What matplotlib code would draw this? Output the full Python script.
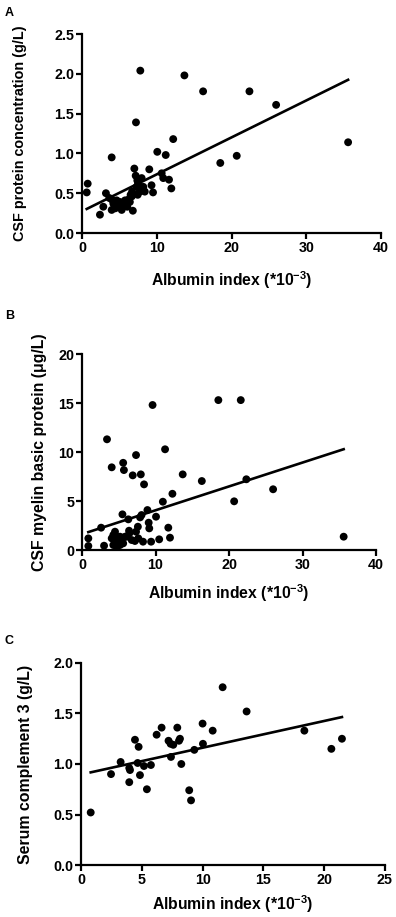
import numpy as np
import matplotlib
matplotlib.use('Agg')
import matplotlib.pyplot as plt

plt.rcParams['font.family'] = ['Liberation Sans', 'DejaVu Sans']
plt.rcParams['font.weight'] = 'bold'
plt.rcParams['mathtext.fontset'] = 'custom'
plt.rcParams['mathtext.rm'] = 'Liberation Sans:bold'
plt.rcParams['mathtext.bf'] = 'Liberation Sans:bold'
plt.rcParams['mathtext.it'] = 'Liberation Sans:bold'

# Panel A: albumin index vs CSF protein
a_x = [0.76, 0.63, 2.4, 2.85, 3.2, 3.97, 3.65, 3.97, 4.19, 4.64, 4.86, 5.08, 5.31, 5.5,
       5.75, 6.06, 6.4, 6.8, 6.66, 7.0, 7.18, 7.22, 7.8, 7.3, 7.5, 7.75, 7.98, 8.2, 8.4,
       9.0, 9.3, 9.5, 10.07, 10.66, 10.87, 11.2, 11.64, 11.95, 12.2, 13.7, 16.2, 18.5,
       20.7, 22.4, 25.97, 35.6, 4.45, 5.9, 6.2, 6.5, 7.45, 7.6, 4.0, 5.2, 5.65, 6.7, 7.4]
a_y = [0.62, 0.51, 0.23, 0.33, 0.50, 0.95, 0.44, 0.29, 0.37, 0.41, 0.33, 0.39, 0.29, 0.35,
       0.41, 0.33, 0.39, 0.28, 0.46, 0.81, 0.72, 1.39, 2.04, 0.58, 0.62, 0.52, 0.69, 0.58, 0.52,
       0.80, 0.60, 0.51, 1.02, 0.75, 0.69, 0.98, 0.67, 0.56, 1.18, 1.98, 1.78, 0.88,
       0.97, 1.78, 1.61, 1.14, 0.31, 0.38, 0.42, 0.48, 0.48, 0.57, 0.42, 0.34, 0.36, 0.52, 0.66]
a_fit = (0.0464, 0.273)

# Panel B: albumin index vs CSF myelin basic protein
b_x = [0.86, 0.86, 2.6, 3.0, 3.4, 4.04, 5.6, 5.7, 7.35, 6.9, 8.0, 8.44, 9.6, 11.3, 11.0,
       12.3, 13.7, 16.3, 5.5, 6.3, 8.1, 7.9, 8.9, 9.07, 9.15, 10.07, 11.74, 11.97, 10.5,
       9.4, 8.3, 7.35, 7.6, 6.44, 6.76, 7.66, 7.2, 6.4, 4.04, 4.26, 4.49, 4.72, 4.94, 5.17,
       5.4, 5.6, 5.85, 4.26, 4.72, 5.17, 4.49, 18.55, 20.7, 21.6, 22.36, 26.0, 35.6, 6.1, 5.0]
b_y = [1.19, 0.41, 2.28, 0.44, 11.3, 8.44, 8.9, 8.16, 9.69, 7.62, 7.72, 6.7, 14.8, 10.28, 4.93,
       5.74, 7.72, 7.04, 3.64, 3.13, 3.57, 3.33, 4.08, 2.79, 2.21, 3.4, 2.28, 1.26, 1.09,
       0.85, 0.85, 1.87, 2.38, 1.7, 1.02, 1.19, 0.92, 1.97, 1.19, 1.53, 1.87, 1.36, 0.85, 0.51,
       1.09, 0.68, 1.36, 0.51, 0.34, 1.36, 0.85, 15.3, 4.97, 15.3, 7.22, 6.2, 1.36, 1.36, 1.0]
b_fit = (0.2435, 1.62)

# Panel C: albumin index vs serum complement 3
c_x = [0.8, 2.47, 3.26, 3.97, 4.03, 3.97, 4.44, 4.74, 4.66, 4.85, 5.18, 5.42, 5.75, 6.22,
       6.63, 7.2, 7.37, 7.59, 7.4, 7.92, 8.14, 8.06, 8.25, 8.9, 9.05, 9.32, 10.0, 10.03,
       10.83, 11.65, 13.62, 18.37, 20.59, 21.46]
c_y = [0.52, 0.90, 1.02, 0.96, 0.94, 0.82, 1.24, 1.17, 1.01, 0.89, 0.98, 0.75, 0.99, 1.29,
       1.36, 1.23, 1.20, 1.19, 1.07, 1.36, 1.25, 1.23, 1.00, 0.74, 0.64, 1.14, 1.40, 1.20,
       1.33, 1.76, 1.52, 1.33, 1.15, 1.25]
c_fit = (0.0265, 0.896)

xlabel = r'Albumin index (*10$^{-3}$)'

panels = [
    dict(x=a_x, y=a_y, fit=a_fit, letter='A', ylabel='CSF protein concentration (g/L)',
         xlim=40, xticks=[0, 10, 20, 30, 40], ylim=2.5, yticks=[0, 0.5, 1.0, 1.5, 2.0, 2.5],
         fmt='{:.1f}', rect=[0.2071, 0.7459, 0.755, 0.2170], yfs=10.4,
         ylx=-0.184, xly=-0.181, let_y=0.992),
    dict(x=b_x, y=b_y, fit=b_fit, letter='B', ylabel='CSF myelin basic protein (\u03bcg/L)',
         xlim=40, xticks=[0, 10, 20, 30, 40], ylim=20, yticks=[0, 5, 10, 15, 20],
         fmt='{:.0f}', rect=[0.2071, 0.4002, 0.7424, 0.2137], yfs=11.4,
         ylx=-0.119, xly=-0.163, let_y=0.662),
    dict(x=c_x, y=c_y, fit=c_fit, letter='C', ylabel='Serum complement 3 (g/L)',
         xlim=25, xticks=[0, 5, 10, 15, 20, 25], ylim=2.0, yticks=[0, 0.5, 1.0, 1.5, 2.0],
         fmt='{:.1f}', rect=[0.2045, 0.0567, 0.7677, 0.2203], yfs=11.4,
         ylx=-0.158, xly=-0.139, let_y=0.308),
]

fig = plt.figure(figsize=(3.96, 9.17), dpi=100)

for p in panels:
    ax = fig.add_axes(p['rect'])
    ax.scatter(p['x'], p['y'], s=32, color='black', edgecolors='none', zorder=3, clip_on=False)
    slope, icept = p['fit']
    xs = np.array([min(p['x']), max(p['x'])])
    ax.plot(xs, slope * xs + icept, color='black', lw=1.9, zorder=2)
    ax.set_xlim(0, p['xlim'])
    ax.set_ylim(0, p['ylim'])
    ax.set_xticks(p['xticks'])
    ax.set_yticks(p['yticks'])
    ax.set_yticklabels([p['fmt'].format(v) for v in p['yticks']])
    for s in ['top', 'right']:
        ax.spines[s].set_visible(False)
    for s in ['left', 'bottom']:
        ax.spines[s].set_linewidth(1.6)
    ax.tick_params(direction='out', length=4, width=1.6, labelsize=10.3, pad=1.5)
    for lab in ax.get_xticklabels() + ax.get_yticklabels():
        lab.set_fontweight('bold')
    ax.set_ylabel(p['ylabel'], fontsize=p['yfs'], fontweight='bold')
    ax.yaxis.set_label_coords(p['ylx'], 0.5)
    ax.set_xlabel(xlabel, fontsize=11.3, fontweight='bold')
    ax.xaxis.set_label_coords(0.5, p['xly'])
    fig.text(0.012, p['let_y'], p['letter'], fontsize=9, fontweight='bold', va='top')

fig.savefig('out.png', dpi=100)
